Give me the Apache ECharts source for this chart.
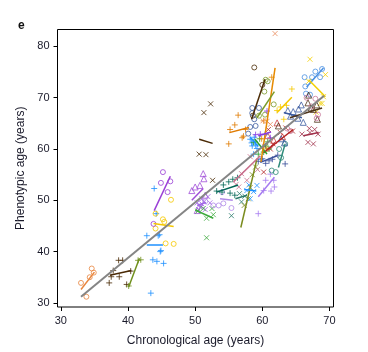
<!DOCTYPE html>
<html>
<head>
<meta charset="utf-8">
<script src="https://cdn.jsdelivr.net/npm/echarts@6/dist/echarts.min.js"></script>
<style>
  html, body { margin: 0; padding: 0; background: #fff; }
  #chart { width: 368px; height: 352px; }
</style>
</head>
<body>
<div id="chart"></div>
<script>
// tick labels
const xTicks = [30, 40, 50, 60, 70];
const yTicks = [30, 40, 50, 60, 70, 80];

// overall fit (all subjects)
const overallFit = [[33.0, 31.2], [69.2, 70.4]];

// per-subject points [chronological, phenotypic] and per-subject fit ends
const s01 = [[33.0, 33.9], [33.8, 31.2], [34.6, 36.7], [34.3, 35.0], [34.9, 35.9]];
const f01 = [[33.0, 32.6], [35.0, 36.0]];
const s02 = [[37.2, 33.9], [37.5, 35.1], [38.7, 35.1], [38.6, 38.3], [39.2, 38.3], [37.8, 36.3], [39.8, 33.6], [40.4, 36.2]];
const f02 = [[37.3, 35.4], [40.5, 36.3]];
const s03 = [[40.1, 33.3], [41.5, 38.3], [41.9, 38.4]];
const f03 = [[40.1, 33.1], [41.7, 38.7]];
const s04 = [[43.9, 52.3], [44.2, 47.4], [42.8, 43.1], [44.7, 43.3], [44.5, 43.1], [43.7, 38.4], [44.3, 38.1], [45.3, 37.7], [44.9, 40.2], [44.8, 40.0], [43.4, 31.9]];
const f04 = [[42.8, 41.3], [45.2, 41.3]];
const s05 = [[45.6, 41.6], [46.8, 41.5], [46.4, 50.1], [44.1, 47.4], [45.2, 46.3], [45.4, 45.8], [44.1, 44.5]];
const f05 = [[43.8, 45.5], [46.8, 44.9]];
const s06 = [[45.2, 55.5], [44.9, 53.4], [46.3, 53.7], [45.9, 51.6], [43.8, 45.4]];
const f06 = [[43.9, 48.0], [46.3, 54.7]];
const s07 = [[50.6, 59.0], [51.6, 58.9], [51.3, 67.1], [52.3, 68.8], [52.6, 53.9]];
const f07 = [[50.6, 61.9], [52.6, 61.1]];
const s08 = [[49.5, 51.9], [50.0, 52.6], [51.2, 55.2], [51.3, 54.2], [50.7, 52.9], [51.5, 51.0], [50.3, 48.0]];
const f08 = [[49.5, 50.0], [51.2, 52.3]];
const s09 = [[50.3, 49.5], [50.6, 49.0], [51.0, 49.3], [50.8, 48.6], [51.5, 48.2], [51.9, 50.7], [52.2, 49.5], [51.0, 50.3], [50.5, 48.2], [50.9, 48.9], [51.3, 49.7]];
const f09 = [[50.3, 49.0], [51.6, 49.6]];
const s10 = [[51.7, 42.7], [51.2, 48.4], [52.5, 48.4], [52.7, 47.2], [51.7, 46.5], [50.4, 47.9]];
const f10 = [[50.0, 48.1], [52.7, 46.5]];
const s11 = [[52.7, 49.0], [53.5, 49.0], [54.2, 49.4], [55.4, 48.5], [54.0, 51.6], [51.5, 49.8]];
const f11 = [[53.7, 50.3], [55.6, 50.0]];
const s12 = [[53.2, 51.8], [54.2, 53.0], [55.0, 53.6], [55.6, 54.1], [56.3, 54.4], [54.0, 51.6], [55.2, 51.4], [55.9, 51.0]];
const f12 = [[53.2, 51.6], [56.4, 53.0]];
const s13 = [[55.4, 47.0], [56.9, 49.7], [56.6, 51.3], [57.4, 50.8]];
const f13 = [[56.0, 50.3], [57.7, 51.0]];
const s14 = [[57.3, 49.0], [57.9, 50.3], [58.2, 52.5], [58.5, 55.0], [59.0, 56.5]];
const f14 = [[56.8, 44.7], [59.2, 58.1]];
const s15 = [[56.5, 52.6], [57.7, 53.9], [56.9, 55.2], [58.2, 58.5], [59.3, 56.0], [56.1, 53.1]];
const f15 = [[55.7, 53.6], [59.7, 58.7]];
const s16 = [[57.7, 51.9], [58.7, 51.7], [59.2, 52.9], [58.2, 50.3], [58.0, 53.0]];
const f16 = [[57.3, 52.1], [59.1, 51.8]];
const s17 = [[59.4, 47.4], [60.2, 51.9], [61.3, 51.8], [61.8, 52.6], [61.7, 53.9], [60.5, 53.9], [61.2, 55.1]];
const f17 = [[59.4, 50.7], [61.8, 54.5]];
const s18 = [[58.2, 61.9], [58.5, 60.6], [58.9, 61.5], [59.2, 60.1], [58.7, 59.0], [60.4, 62.8], [59.8, 58.0], [58.4, 61.2], [59.0, 60.8], [58.8, 62.3]];
const f18 = [[58.2, 62.3], [59.4, 60.5]];
const s19 = [[60.0, 58.1], [61.0, 57.7], [61.5, 58.0], [59.4, 57.6], [62.3, 58.8], [60.5, 57.2], [63.4, 57.1]];
const f19 = [[59.7, 57.4], [62.2, 58.7]];
const s20 = [[61.4, 55.8], [62.0, 55.5], [62.8, 58.3], [63.4, 61.0], [62.5, 60.0]];
const f20 = [[62.4, 56.4], [63.4, 61.0]];
const s21 = [[60.9, 63.8], [62.7, 63.2], [61.6, 61.0], [60.2, 55.5], [63.5, 64.1], [64.5, 63.5], [61.2, 60.0], [60.4, 60.5]];
const f21 = [[60.2, 59.3], [64.6, 63.8]];
const s22 = [[62.2, 65.1], [60.8, 62.6], [61.7, 61.7], [63.0, 62.4]];
const s23 = [[58.7, 61.3], [59.4, 59.0], [60.5, 60.6], [60.2, 59.4], [59.6, 62.0], [61.0, 60.0], [60.8, 61.4]];
const f23 = [[58.9, 61.9], [60.7, 59.0]];
const s24 = [[58.8, 75.9], [58.6, 66.5], [60.0, 72.5]];
const f24 = [[58.4, 65.8], [60.4, 73.6]];
const s25 = [[55.2, 63.8], [55.9, 64.7], [56.4, 66.6], [55.0, 61.0], [57.0, 62.2], [57.5, 63.8], [57.2, 62.5]];
const f25 = [[55.1, 63.2], [58.0, 64.2]];
const s26 = [[61.4, 74.0], [60.2, 65.5], [59.9, 62.0], [60.7, 60.0]];
const f26 = [[59.8, 57.5], [61.9, 75.8]];
const s27 = [[61.9, 82.5], [60.1, 65.5], [60.7, 65.4], [61.2, 64.8]];
const s28 = [[60.5, 73.5], [60.8, 73.2], [60.3, 71.2], [61.7, 68.7], [60.4, 66.7], [59.5, 66.5]];
const f28 = [[59.2, 66.1], [61.8, 71.2]];
const s29 = [[62.7, 68.2], [64.4, 71.7], [63.2, 65.8], [63.6, 68.5], [62.2, 67.5]];
const f29 = [[62.2, 67.1], [64.4, 70.1]];
const s30 = [[66.3, 74.0], [67.9, 75.1], [68.9, 75.6], [68.6, 74.0], [67.4, 74.0], [66.4, 72.2], [67.1, 70.6], [66.5, 70.8]];
const f30 = [[66.6, 72.1], [69.1, 75.8]];
const s31 = [[67.1, 77.5], [69.4, 74.5], [66.9, 73.2], [68.9, 68.9], [68.6, 68.9], [69.1, 70.2], [68.0, 67.2]];
const f31 = [[66.9, 73.5], [69.4, 70.2]];
const s32 = [[63.8, 67.5], [64.6, 67.3], [65.4, 67.8], [66.1, 65.2], [65.3, 66.0], [65.8, 68.6], [64.2, 66.4], [62.8, 62.0], [63.3, 61.2]];
const f32 = [[63.2, 67.1], [65.9, 66.1]];
const s33 = [[58.5, 68.0], [58.5, 67.0], [58.8, 65.8], [59.5, 68.0], [58.2, 64.3], [57.9, 63.0], [59.0, 64.5]];
const s34 = [[66.9, 70.5], [68.1, 68.6], [67.6, 67.7], [68.2, 65.8], [66.8, 69.0], [67.3, 68.0], [62.4, 64.5]];
const f34 = [[64.1, 66.1], [68.9, 68.0]];
const s35 = [[65.9, 62.9], [67.1, 63.2], [66.8, 61.3], [67.6, 61.0], [68.3, 62.9], [67.0, 64.0], [67.8, 63.8]];
const f35 = [[66.1, 62.6], [68.4, 63.2]];
const s36 = [[66.6, 70.0], [67.9, 69.8], [68.3, 66.7], [68.1, 66.0], [67.3, 68.3], [64.2, 63.5], [63.7, 64.0]];
const s37 = [[60.7, 67.4], [59.0, 62.8], [59.7, 62.9], [61.2, 62.2]];
const f37 = [[59.4, 62.6], [61.3, 63.3]];

const PLUS = 'path://M5,0L5,10M0,5L10,5';
const CROSS = 'path://M0,0L10,10M10,0L0,10';

// style table: which array, colour, marker
const subjects = [
  { pts: s01, fit: f01, color: '#e8853d', symbol: 'circle' },
  { pts: s02, fit: f02, color: '#4a2a05', symbol: PLUS },
  { pts: s03, fit: f03, color: '#6f8f1c', symbol: PLUS },
  { pts: s04, fit: f04, color: '#1e90ff', symbol: PLUS },
  { pts: s05, fit: f05, color: '#f5c800', symbol: 'circle' },
  { pts: s06, fit: f06, color: '#9a3fd6', symbol: 'circle' },
  { pts: s07, fit: f07, color: '#4a2a05', symbol: CROSS },
  { pts: s08, fit: f08, color: '#a04fd8', symbol: 'triangle' },
  { pts: s09, fit: f09, color: '#a266e6', symbol: CROSS },
  { pts: s10, fit: f10, color: '#3daa3d', symbol: CROSS },
  { pts: s11, fit: f11, color: '#b08ae8', symbol: 'circle' },
  { pts: s12, fit: f12, color: '#006655', symbol: PLUS },
  { pts: s13, fit: f13, color: '#2a7a6a', symbol: CROSS },
  { pts: s14, fit: f14, color: '#7a8c1e', symbol: CROSS },
  { pts: s15, fit: f15, color: '#c86e8c', symbol: CROSS },
  { pts: s16, fit: f16, color: '#1e90ff', symbol: CROSS },
  { pts: s17, fit: f17, color: '#a67cf0', symbol: PLUS },
  { pts: s18, fit: f18, color: '#1e90ff', symbol: PLUS },
  { pts: s19, fit: f19, color: '#3a4f9a', symbol: PLUS },
  { pts: s20, fit: f20, color: '#2e8b7a', symbol: 'circle' },
  { pts: s21, fit: f21, color: '#b22222', symbol: CROSS },
  { pts: s22, fit: null, color: '#cc3d3d', symbol: 'triangle' },
  { pts: s23, fit: f23, color: '#2ca02c', symbol: PLUS },
  { pts: s24, fit: f24, color: '#4a2a05', symbol: 'circle' },
  { pts: s25, fit: f25, color: '#e07b00', symbol: PLUS },
  { pts: s26, fit: f26, color: '#e68a00', symbol: PLUS },
  { pts: s27, fit: null, color: '#e8895a', symbol: CROSS },
  { pts: s28, fit: f28, color: '#7a9a2a', symbol: 'circle' },
  { pts: s29, fit: f29, color: '#f5c800', symbol: PLUS },
  { pts: s30, fit: f30, color: '#4a90e2', symbol: 'circle' },
  { pts: s31, fit: f31, color: '#f2cf00', symbol: CROSS },
  { pts: s32, fit: f32, color: '#3b5ba0', symbol: 'triangle' },
  { pts: s33, fit: null, color: '#3b5ba0', symbol: 'circle' },
  { pts: s34, fit: f34, color: '#4d3319', symbol: 'triangle' },
  { pts: s35, fit: f35, color: '#a0304a', symbol: CROSS },
  { pts: s36, fit: null, color: '#c8789a', symbol: 'circle' },
  { pts: s37, fit: f37, color: '#8a3ae0', symbol: PLUS }
];

function markerSize(symbol) {
  if (symbol === PLUS) return 6;
  if (symbol === CROSS) return 5;
  if (symbol === 'triangle') return 6;
  return 5;
}

const series = [];
subjects.forEach(function (s) {
  series.push({
    type: 'scatter',
    data: s.pts,
    symbol: s.symbol,
    symbolSize: markerSize(s.symbol),
    itemStyle: { color: 'rgba(0,0,0,0)', borderColor: s.color, borderWidth: 1 },
    silent: true,
    z: 2
  });
  if (s.fit) {
    series.push({
      type: 'line',
      data: s.fit,
      showSymbol: false,
      symbol: 'none',
      lineStyle: { color: s.color, width: 1.5 },
      silent: true,
      z: 3
    });
  }
});
series.push({
  type: 'line',
  data: overallFit,
  symbol: 'none',
  lineStyle: { color: '#858585', width: 2 },
  silent: true,
  z: 4
});

const chart = echarts.init(document.getElementById('chart'), null, { renderer: 'canvas' });
chart.setOption({
  animation: false,
  backgroundColor: '#fff',
  textStyle: { fontFamily: 'Liberation Sans' },
  title: {
    text: 'e',
    left: 13,
    top: 15,
    textStyle: { fontSize: 12, fontWeight: 'bold', color: '#111', fontFamily: 'Liberation Sans' }
  },
  grid: {
    left: 57.5, right: 34.5, top: 29.5, bottom: 42.5,
    show: true, borderColor: '#000', borderWidth: 1
  },
  xAxis: {
    type: 'value',
    min: 29.5, max: 70.6,
    name: 'Chronological age (years)',
    nameLocation: 'middle',
    nameGap: 28,
    nameTextStyle: { fontSize: 12, color: '#1a1a2a' },
    axisLine: { show: false },
    splitLine: { show: false },
    axisTick: { show: true, customValues: xTicks, length: 4, lineStyle: { color: '#000' } },
    axisLabel: { customValues: xTicks, margin: 8, fontSize: 11, color: '#1a1a2a' }
  },
  yAxis: {
    type: 'value',
    min: 29.2, max: 83.3,
    name: 'Phenotypic age (years)',
    nameLocation: 'middle',
    nameGap: 31,
    nameTextStyle: { fontSize: 12, color: '#1a1a2a' },
    axisLine: { show: false },
    splitLine: { show: false },
    axisTick: { show: true, customValues: yTicks, length: 4, lineStyle: { color: '#000' } },
    axisLabel: { customValues: yTicks, margin: 8, fontSize: 11, color: '#1a1a2a' }
  },
  series: series
});
</script>
</body>
</html>
